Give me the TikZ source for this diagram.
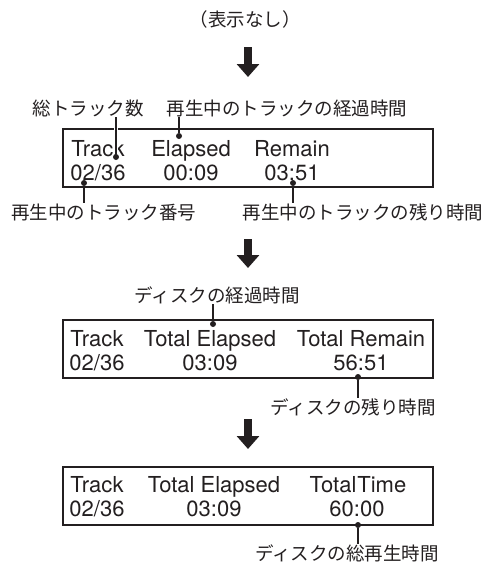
\documentclass[tikz,border=0pt]{standalone}
\usepackage{fontspec}
\usepackage{tikz}
\usetikzlibrary{arrows.meta}
\setmainfont{TeX Gyre Heros}
\newfontfamily\jpfont{Noto Sans CJK JP}
\definecolor{ink}{HTML}{231f20}

\begin{document}
\begin{tikzpicture}[
  x=1pt, y=-1pt,
  lcd/.style={draw=ink, line width=1.2pt, minimum width=370pt, minimum height=58pt, inner sep=0pt},
  val/.style={anchor=base, inner sep=0pt, text=ink, font=\fontsize{22}{22}\selectfont},
  note/.style={inner sep=0pt, text=ink, font=\jpfont\fontsize{18.5}{19}\selectfont},
  lead/.style={draw=ink, line width=2pt},
  halo/.style={preaction={draw=white, line width=4.5pt}},
  pin/.style={fill=ink, circle, inner sep=0pt, minimum size=6pt},
  down/.style={draw=ink, line width=8pt, -{Triangle[length=13pt, width=22pt]}},
]
\useasboundingbox (0,0) rectangle (488,568);
% start
\node[note] (none) at (245,19) {（表示なし）};
\coordinate (a1s) at (248,47);
\coordinate (a1e) at (248,77);
\draw[down] (a1s) -- (a1e);
% display 1: track time
\node[note] (ntot) at (88,108) {総トラック数};
\node[note] (nel) at (287,108) {再生中のトラックの経過時間};
\node[lcd] (lcdA) at (248,158) {};
\node[val] (tA) at (98,156) {Track};
\node[val] (eA) at (191,156) {Elapsed};
\node[val] (rA) at (292,156) {Remain};
\node[val] (tvA) at (98,180) {02/36};
\node[val] (evA) at (191,180) {00:09};
\node[val] (rvA) at (292,180) {03:51};
\node[pin] (pTot) at (116,157) {};
\node[pin] (pEl) at (179,136) {};
\node[pin] (pNo) at (84,183) {};
\node[pin] (pRe) at (293,183) {};
\node[note] (nno) at (104,212) {再生中のトラック番号};
\node[note] (nre) at (363,212) {再生中のトラックの残り時間};
\draw[lead, halo] (pTot) -- (pTot |- ntot.south);
\draw[lead] (pEl) -- (pEl |- nel.south);
\draw[lead] (pNo) -- (pNo |- nno.north);
\draw[lead] (pRe) -- (pRe |- nre.north);
\coordinate (a2s) at (248,239);
\coordinate (a2e) at (248,268);
\draw[down] (a2s) -- (a2e);
% display 2: disc elapsed / remain
\node[note] (ndel) at (217,295) {ディスクの経過時間};
\node[lcd] (lcdB) at (248,349) {};
\node[val] (tB) at (97,346) {Track};
\node[val] (eB) at (210,346) {Total Elapsed};
\node[val] (rB) at (361,346) {Total Remain};
\node[val] (tvB) at (97,370) {02/36};
\node[val] (evB) at (210,370) {03:09};
\node[val] (rvB) at (361,370) {56:51};
\node[pin] (pDel) at (213,324) {};
\node[pin] (pDre) at (358,377) {};
\node[note] (ndre) at (353,407) {ディスクの残り時間};
\draw[lead] (pDel) -- (pDel |- ndel.south);
\draw[lead] (pDre) -- (pDre |- ndre.north);
\coordinate (a3s) at (248,419);
\coordinate (a3e) at (248,449);
\draw[down] (a3s) -- (a3e);
% display 3: disc total time
\node[lcd] (lcdC) at (248,496) {};
\node[val] (tC) at (97,492) {Track};
\node[val] (eC) at (214,492) {Total Elapsed};
\node[val] (rC) at (358,492) {Total\kern1pt Time};
\node[val] (tvC) at (97,516) {02/36};
\node[val] (evC) at (214,516) {03:09};
\node[val] (rvC) at (357,516) {60:00};
\node[pin] (pTt) at (358,525) {};
\node[note] (ntt) at (347,553) {ディスクの総再生時間};
\draw[lead] (pTt) -- (pTt |- ntt.north);
\end{tikzpicture}
\end{document}
